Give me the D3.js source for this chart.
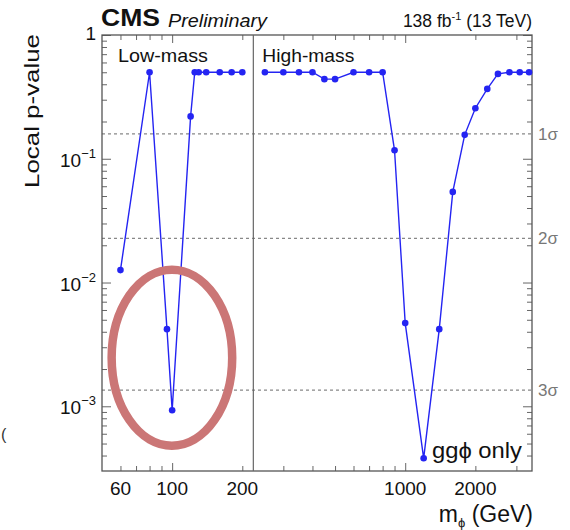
<!DOCTYPE html>
<html>
<head>
<meta charset="utf-8">
<script src="https://cdn.jsdelivr.net/npm/d3@7"></script>
<style>
  body { margin: 0; background: #fff; }
  svg { display: block; }
</style>
</head>
<body>
<svg id="chart" width="570" height="530"></svg>
<script>
// Local p-value scan, low-mass and high-mass
const lowMass = [60, 80, 95, 100, 120, 125, 130, 140, 160, 180, 200];
const lowP = [0.0126, 0.5, 0.0042, 0.00093, 0.22, 0.5, 0.5, 0.5, 0.5, 0.5, 0.5];
const highMass = [250, 300, 350, 400, 450, 500, 600, 700, 800, 900, 1000, 1200, 1400, 1600, 1800, 2000, 2250, 2500, 2800, 3100, 3400];
const highP = [0.5, 0.5, 0.5, 0.5, 0.44, 0.44, 0.5, 0.5, 0.5, 0.117, 0.0047, 0.00038, 0.0042, 0.054, 0.156, 0.256, 0.367, 0.485, 0.5, 0.5, 0.5];

const sigmaLabels = ["1σ", "2σ", "3σ"];
const sigmaP = [0.1587, 0.02275, 0.00135];

const xTickLabels = [60, 100, 200, 1000, 2000];
const xMajor = [100, 1000];
const yDecades = [1, 0.1, 0.01, 0.001];
const yDecadeExp = [0, -1, -2, -3];

const splitMass = 223;           // boundary between the two regions
const circledMass = [55, 181];   // hand-drawn ellipse around the excess
const circledP = [0.00048, 0.0127];

const font = "'Liberation Sans', Arial, Helvetica, sans-serif";
const margin = {top: 35, right: 38, bottom: 59, left: 102};
const width = 570, height = 530;

const svg = d3.select("#chart");

const x = d3.scaleLog().domain([50, 3500]).range([margin.left, width - margin.right]);
const y = d3.scaleLog().domain([3e-4, 1]).range([height - margin.bottom, margin.top]);

const frameColor = "#555";
const pBottom = height - margin.bottom, pTop = margin.top;
const pLeft = margin.left, pRight = width - margin.right;

// dashed significance lines
svg.append("g")
  .selectAll("line")
  .data(sigmaP)
  .join("line")
  .attr("x1", pLeft)
  .attr("x2", pRight)
  .attr("y1", d => y(d))
  .attr("y2", d => y(d))
  .attr("stroke", "#888")
  .attr("stroke-width", 1.2)
  .attr("stroke-dasharray", "3,3");

// ticks (inside, on all four sides)
const xTicks = x.ticks().filter(d => d > 50 && d < 3500);
const xMinor = xTicks.filter(d => !xMajor.includes(d));
const yTicks = y.ticks().filter(d => d > 3e-4 && d < 1);
const yMinor = yTicks.filter(d => !yDecades.some(v => Math.abs(v - d) / v < 1e-6));

function tickAxis(axisFn, scale, values, len, transform) {
  const g = svg.append("g")
    .attr("transform", transform)
    .call(axisFn(scale).tickValues(values).tickSize(-len).tickFormat(""));
  g.select(".domain").remove();
  g.selectAll("line").attr("stroke", "#666").attr("stroke-width", 1);
  return g;
}

tickAxis(d3.axisBottom, x, xMinor, 5, `translate(0,${pBottom})`);
tickAxis(d3.axisBottom, x, xMajor, 8, `translate(0,${pBottom})`);
tickAxis(d3.axisTop, x, xMinor, 5, `translate(0,${pTop})`);
tickAxis(d3.axisTop, x, xMajor, 8, `translate(0,${pTop})`);
tickAxis(d3.axisLeft, y, yMinor, 5, `translate(${pLeft},0)`);
tickAxis(d3.axisLeft, y, yDecades, 9, `translate(${pLeft},0)`);
tickAxis(d3.axisRight, y, yMinor, 5, `translate(${pRight},0)`);
tickAxis(d3.axisRight, y, yDecades, 9, `translate(${pRight},0)`);

// frame
svg.append("rect")
  .attr("x", pLeft).attr("y", pTop)
  .attr("width", pRight - pLeft).attr("height", pBottom - pTop)
  .attr("fill", "none")
  .attr("stroke", frameColor)
  .attr("stroke-width", 1.3);

// region divider
svg.append("line")
  .attr("x1", x(splitMass)).attr("x2", x(splitMass))
  .attr("y1", pTop).attr("y2", pBottom)
  .attr("stroke", "#666")
  .attr("stroke-width", 1.2);

// x tick labels
svg.append("g")
  .selectAll("text")
  .data(xTickLabels)
  .join("text")
  .attr("x", d => x(d))
  .attr("y", pBottom + 24)
  .attr("text-anchor", "middle")
  .attr("font-family", font)
  .attr("font-size", 19)
  .attr("fill", "#111")
  .text(d => d);

// y tick labels
const yLab = svg.append("g")
  .selectAll("text")
  .data(yDecades)
  .join("text")
  .attr("x", pLeft - 6)
  .attr("y", d => y(d) + 8)
  .attr("text-anchor", "end")
  .attr("font-family", font)
  .attr("font-size", 19)
  .attr("fill", "#111");
yLab.each(function(d, i) {
  const t = d3.select(this);
  if (yDecadeExp[i] === 0) {
    t.attr("y", y(d) + 5).text("1");
  } else {
    t.append("tspan").text("10");
    t.append("tspan").attr("dy", -9).attr("font-size", 13).text("−" + (-yDecadeExp[i]));
  }
});

// sigma labels
svg.append("g")
  .selectAll("text")
  .data(sigmaP)
  .join("text")
  .attr("x", pRight + 6)
  .attr("y", d => y(d) + 6)
  .attr("font-family", font)
  .attr("font-size", 17)
  .attr("fill", "#777")
  .text((d, i) => sigmaLabels[i]);

// data lines
const line = d3.line()
  .x(d => x(d[0]))
  .y(d => y(d[1]));

const blue = "#2424f2";
[[lowMass, lowP], [highMass, highP]].forEach(([ms, ps]) => {
  const pts = ms.map((m, i) => [m, ps[i]]);
  svg.append("path")
    .datum(pts)
    .attr("d", line)
    .attr("fill", "none")
    .attr("stroke", blue)
    .attr("stroke-width", 1.4);
  svg.append("g")
    .selectAll("circle")
    .data(pts)
    .join("circle")
    .attr("cx", d => x(d[0]))
    .attr("cy", d => y(d[1]))
    .attr("r", 3.3)
    .attr("fill", blue);
});

// hand-drawn ellipse annotation
const defs = svg.append("defs");
defs.append("filter").attr("id", "soft")
  .append("feGaussianBlur").attr("stdDeviation", 0.7);
const ex0 = x(circledMass[0]), ex1 = x(circledMass[1]);
const ey0 = y(circledP[1]), ey1 = y(circledP[0]);
svg.append("ellipse")
  .attr("cx", (ex0 + ex1) / 2)
  .attr("cy", (ey0 + ey1) / 2)
  .attr("rx", (ex1 - ex0) / 2)
  .attr("ry", (ey1 - ey0) / 2)
  .attr("fill", "none")
  .attr("stroke", "#cb7676")
  .attr("stroke-width", 8.5)
  .attr("filter", "url(#soft)");

// text helper: stretch to the measured width like the original rendering
function label(xPos, yPos, size, len, str) {
  return svg.append("text")
    .attr("x", xPos).attr("y", yPos)
    .attr("font-family", font).attr("font-size", size).attr("fill", "#111")
    .attr("textLength", len)
    .attr("lengthAdjust", "spacingAndGlyphs")
    .text(str);
}

// region labels
label(pLeft + 16, pTop + 27, 19, 90, "Low-mass");
label(x(splitMass) + 9, pTop + 27, 19, 92, "High-mass");
label(pRight - 100, pBottom - 13, 22, 90, "ggϕ only");

// header
label(pLeft - 1, pTop - 9, 23, 59, "CMS").attr("font-weight", "bold");
label(pLeft + 66, pTop - 8, 19, 99, "Preliminary").attr("font-style", "italic");

const lumi = svg.append("text")
  .attr("x", pRight).attr("y", pTop - 8)
  .attr("text-anchor", "end")
  .attr("font-family", font).attr("font-size", 17.5).attr("fill", "#111");
lumi.append("tspan").text("138 fb");
lumi.append("tspan").attr("dy", -7).attr("font-size", 11).text("-1");
lumi.append("tspan").attr("dy", 7).text(" (13 TeV)");

// axis titles
label(0, 0, 21, 154, "Local p-value")
  .attr("transform", `translate(39,${pTop - 1}) rotate(-90)`)
  .attr("text-anchor", "end");

const xt = svg.append("text")
  .attr("x", pRight + 1).attr("y", height - 8)
  .attr("text-anchor", "end")
  .attr("font-family", font).attr("font-size", 23).attr("fill", "#111");
xt.append("tspan").text("m");
xt.append("tspan").attr("dy", 5).attr("font-size", 13).text("ϕ");
xt.append("tspan").attr("dy", -5).text(" (GeV)");

// stray clipped glyph at the left edge
svg.append("text")
  .attr("x", 1).attr("y", 440)
  .attr("font-family", font).attr("font-size", 16).attr("fill", "#333")
  .text("(");
</script>
</body>
</html>
